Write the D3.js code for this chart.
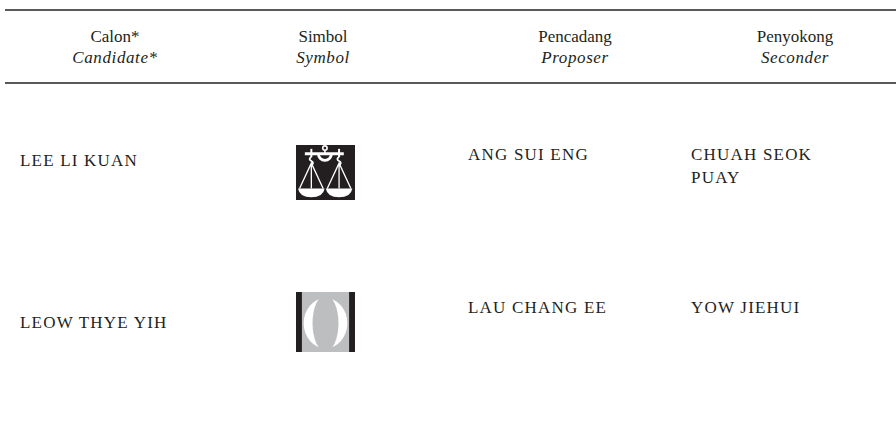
<!DOCTYPE html>
<html>
<head>
<meta charset="utf-8">
<script src="https://cdn.jsdelivr.net/npm/d3@7"></script>
<style>
  html, body { margin: 0; padding: 0; background: #fff; }
  svg { display: block; }
  text { font-family: "Liberation Serif", "Times New Roman", serif; fill: #231f20; }
</style>
</head>
<body>
<svg id="chart" width="896" height="425"></svg>
<script>
// ---- data ----
const headersMalay = ["Calon*", "Simbol", "Pencadang", "Penyokong"];
const headersEnglish = ["Candidate*", "Symbol", "Proposer", "Seconder"];
const candidates = ["LEE LI KUAN", "LEOW THYE YIH"];
const symbols = ["scales", "moon"];
const proposers = ["ANG SUI ENG", "LAU CHANG EE"];
const seconders = [["CHUAH SEOK", "PUAY"], ["YOW JIEHUI"]];

const W = 896, H = 425;
const svg = d3.select("#chart");

const cols = ["cand", "sym", "prop", "sec"];
const colCenter = d3.scaleOrdinal().domain(cols).range([115, 323, 575, 795]);
const colLeft = d3.scaleOrdinal().domain(cols).range([20, 296, 468, 691]);
const rowY = d3.scaleBand().domain(d3.range(candidates.length)).range([100, 390]).paddingInner(0);

// rules
const rule = "#58595b";
svg.append("line").attr("x1", 5).attr("x2", W).attr("y1", 10).attr("y2", 10)
  .attr("stroke", rule).attr("stroke-width", 2);
svg.append("line").attr("x1", 5).attr("x2", W).attr("y1", 83).attr("y2", 83)
  .attr("stroke", rule).attr("stroke-width", 2);

// headers
svg.selectAll("text.h1").data(headersMalay).join("text").attr("class", "h1")
  .attr("x", (d, i) => colCenter(cols[i])).attr("y", 42)
  .attr("text-anchor", "middle").attr("font-size", 17).text(d => d);
svg.selectAll("text.h2").data(headersEnglish).join("text").attr("class", "h2")
  .attr("x", (d, i) => colCenter(cols[i])).attr("y", 63)
  .attr("text-anchor", "middle").attr("font-size", 17).attr("font-style", "italic")
  .attr("letter-spacing", 0.6).text(d => d);

const bodyFont = 17, ls = 1.2;
const nameOffset = [66, 83];
svg.selectAll("text.cand").data(candidates).join("text").attr("class", "cand")
  .attr("x", colLeft("cand")).attr("y", (d, i) => rowY(i) + nameOffset[i])
  .attr("font-size", bodyFont).attr("letter-spacing", ls).text(d => d);

const topOffset = [60, 68];
svg.selectAll("text.prop").data(proposers).join("text").attr("class", "prop")
  .attr("x", colLeft("prop")).attr("y", (d, i) => rowY(i) + topOffset[i])
  .attr("font-size", bodyFont).attr("letter-spacing", ls).text(d => d);

seconders.forEach((lines, i) => {
  lines.forEach((ln, j) => {
    svg.append("text").attr("x", colLeft("sec")).attr("y", rowY(i) + topOffset[i] + j * 23)
      .attr("font-size", bodyFont).attr("letter-spacing", ls).text(ln);
  });
});

// symbols
const symTop = [45, 47];
const symSize = [[59, 55], [59, 60]];
symbols.forEach((s, i) => {
  const g = svg.append("g").attr("transform", `translate(${colLeft("sym")},${rowY(i) + symTop[i]})`);
  if (s === "scales") drawScales(g, symSize[i][0], symSize[i][1]);
  else drawMoon(g, symSize[i][0], symSize[i][1], i);
});

function drawScales(g, w, h) {
  g.append("rect").attr("width", w).attr("height", h).attr("fill", "#231f20");
  const white = "#fff";
  const cx = w * 0.49, beamY = h * 0.16;
  g.append("line").attr("x1", w * 0.15).attr("x2", w * 0.81).attr("y1", beamY).attr("y2", beamY)
    .attr("stroke", white).attr("stroke-width", 3);
  g.append("circle").attr("cx", cx).attr("cy", h * 0.055).attr("r", 2.2)
    .attr("fill", "none").attr("stroke", white).attr("stroke-width", 1.6);
  g.append("line").attr("x1", cx).attr("x2", cx).attr("y1", h * 0.1).attr("y2", beamY)
    .attr("stroke", white).attr("stroke-width", 1.6);
  const r = 6.5;
  g.append("path").attr("d", `M${cx - r},${beamY} A${r},${r} 0 0 0 ${cx + r},${beamY}`)
    .attr("fill", "none").attr("stroke", white).attr("stroke-width", 2.8);
  [0.26, 0.73].forEach(fx => {
    const hx = w * fx;
    g.append("line").attr("x1", hx).attr("x2", hx).attr("y1", h * 0.07).attr("y2", h * 0.22)
      .attr("stroke", white).attr("stroke-width", 2);
    g.append("path").attr("d", `M${hx},${h * 0.22} q-3.5,2 0,4 q3.5,2 0,4`)
      .attr("fill", "none").attr("stroke", white).attr("stroke-width", 1.7);
    const hy = h * 0.33, py = h * 0.79, pl = hx - w * 0.2, pr = hx + w * 0.2;
    g.append("path").attr("d", `M${pl},${py} L${hx},${hy} L${pr},${py} M${hx},${hy} L${hx},${py}`)
      .attr("fill", "none").attr("stroke", white).attr("stroke-width", 1.3);
    g.append("path").attr("d", `M${pl - 1.5},${py} L${pr + 1.5},${py} Q${pr},${h * 0.95} ${hx},${h * 0.95} Q${pl},${h * 0.95} ${pl - 1.5},${py} Z`)
      .attr("fill", white);
  });
}

function drawMoon(g, w, h, i) {
  const clipId = "moonclip" + i;
  g.append("clipPath").attr("id", clipId).append("rect").attr("width", w).attr("height", h);
  const c = g.append("g").attr("clip-path", `url(#${clipId})`);
  c.append("rect").attr("width", w).attr("height", h).attr("fill", "#231f20");
  const inner = w * 0.1;
  c.append("rect").attr("x", inner).attr("width", w - 2 * inner).attr("height", h).attr("fill", "#bcbec0");
  c.append("ellipse").attr("cx", w / 2).attr("cy", h * 0.52).attr("rx", w * 0.37).attr("ry", h * 0.42)
    .attr("fill", "#fff");
  c.append("ellipse").attr("cx", w / 2).attr("cy", h * 0.52).attr("rx", w * 0.22).attr("ry", h * 0.47)
    .attr("fill", "#bcbec0");
}
</script>
</body>
</html>
